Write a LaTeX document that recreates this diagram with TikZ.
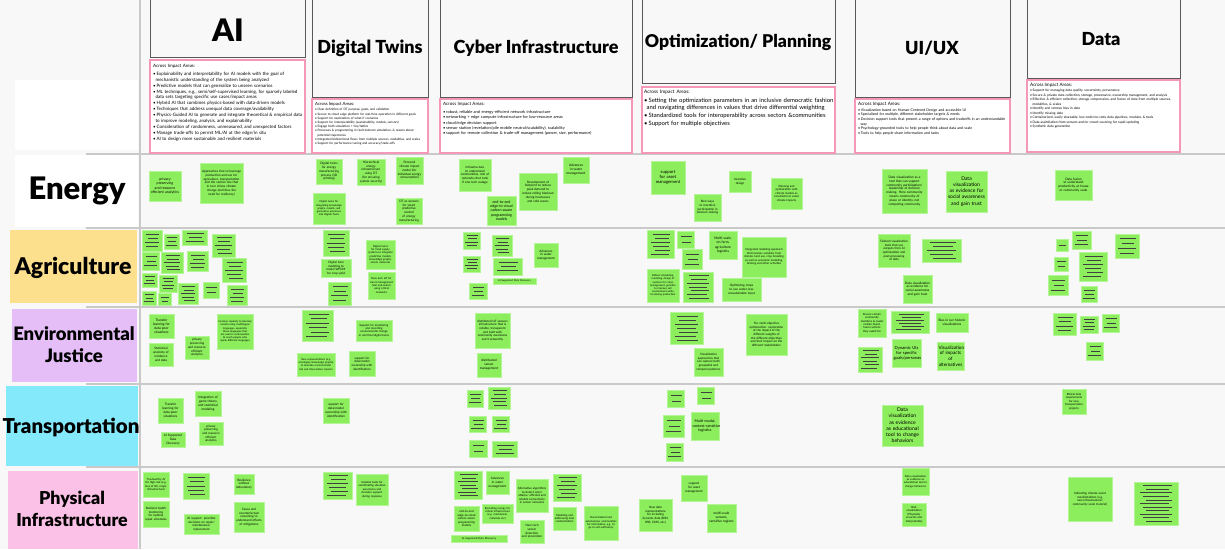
\documentclass[tikz,border=0pt]{standalone}
\usepackage{fontspec}
\setmainfont{Lato}
\newfontfamily\heavy{Lato Black}
\hyphenpenalty=10000
\exhyphenpenalty=10000
\definecolor{notegreen}{HTML}{8CEE5C}
\definecolor{noteedge}{HTML}{B4F597}
\definecolor{boardbg}{HTML}{F8F8F8}
\definecolor{sepgray}{HTML}{C9C9C9}
\definecolor{acrosspink}{HTML}{F497B8}
\definecolor{agriyellow}{HTML}{FDE08E}
\definecolor{ejpurple}{HTML}{E6BEF7}
\definecolor{transcyan}{HTML}{84EAFB}
\definecolor{physpink}{HTML}{FBC1E6}

\tikzset{
  note/.style={fill=notegreen, draw=noteedge, line width=0.7pt, inner sep=1pt, align=center},
  smudge/.style={black!75, line width=0.75pt},
  headbox/.style={draw=black!65, fill=boardbg, line width=0.9pt},
  across/.style={draw=acrosspink, fill=white, line width=1.1pt},
  acrosstext/.style={anchor=north west, inner sep=0pt, align=left},
  headtitle/.style={font=\heavy\fontsize{18}{21}\selectfont},
  rowtitle/.style={font=\heavy\fontsize{18.5}{22}\selectfont, align=center},
  sep/.style={sepgray, line width=1.4pt},
}

% sticky note with readable text: name, x1, y1, x2, y2, size, text
\newcommand{\stick}[7]{%
  \pgfmathsetmacro\sw{#4-#2}\pgfmathsetmacro\sh{#5-#3}%
  \pgfmathsetmacro\tw{#4-#2-3}\pgfmathsetmacro\bs{1.22*#6}%
  \node[note, minimum width=\sw, minimum height=\sh, text width=\tw,
        font=\fontsize{#6}{\bs}\selectfont] (#1) at ({(#2+#4)/2},{(#3+#5)/2}) {#7};}
% sticky note too small to read: name, x1, y1, x2, y2, lines
\newcommand{\blur}[6]{%
  \pgfmathsetmacro\sw{#4-#2}\pgfmathsetmacro\sh{#5-#3}%
  \node[note, minimum width=\sw, minimum height=\sh] (#1) at ({(#2+#4)/2},{(#3+#5)/2}) {};
  \foreach \k in {1,...,#6}
    \draw[smudge] ({#2+(0.14+0.07*mod(\k,3))*(#4-#2)},{#3+\k*(#5-#3)/(#6+1)})
      -- ({#4-(0.14+0.06*mod(\k+1,2))*(#4-#2)},{#3+\k*(#5-#3)/(#6+1)});}
\newcommand{\itm}{\par\noindent\hangindent=2.4pt\hangafter=1 •\,}

\begin{document}
\begin{tikzpicture}[x=1pt, y=-1pt]
    \useasboundingbox (0,0) rectangle (1225,549);
    \fill[boardbg] (0,0) rectangle (1225,549);

    % grid lines
    \draw[sep] (140,0) -- (140,549);
    \foreach \yy in {154,228,307,384,467}
        \draw[sep] (86,\yy) -- (1225,\yy);

    % column heads
    \fill[white] (15,80) rectangle (138,150);
    \draw[headbox] (150,-3) rectangle (305,57);
    \draw[headbox] (312,-3) rectangle (428,97);
    \draw[headbox] (440,-3) rectangle (632,97);
    \draw[headbox] (642,-3) rectangle (835,83);
    \draw[headbox] (855,-3) rectangle (1010,97);
    \draw[headbox] (1027,-3) rectangle (1180,78);
    \node[headtitle, font=\heavy\fontsize{31}{34}\selectfont] (hAI) at (228,30) {AI};
    \node[headtitle] (hDT) at (370,48) {Digital Twins};
    \node[headtitle] (hCI) at (536,48) {Cyber Infrastructure};
    \node[headtitle, font=\heavy\fontsize{17.6}{21}\selectfont] (hOP) at (738,42) {Optimization/ Planning};
    \node[headtitle] (hUI) at (932,48) {UI/UX};
    \node[headtitle] (hDA) at (1101,39) {Data};

    % across impact areas
    \draw[across] (150,60) rectangle (305,153);
    \node[acrosstext, text width=149, font=\fontsize{4.5}{5.9}\selectfont] (xAI) at (153,64) {Across Impact Areas:\par\vspace{2pt}
      \itm Explainability and interpretability for AI models with the goal of mechanistic understanding of the system being analyzed
      \itm Predictive models that can generalize to unseen scenarios
      \itm ML techniques, e.g., semi/self-supervised learning, for sparsely labeled data sets targeting specific use cases/impact areas
      \itm Hybrid AI that combines physics-based with data-driven models
      \itm Techniques that address unequal data coverage/availability
      \itm Physics-Guided AI to generate and integrate theoretical \& empirical data to improve modeling, analysis, and explainability
      \itm Consideration of randomness, unmeasured, and unexpected factors
      \itm Manage trade-offs to permit ML/AI at the edge/in situ
      \itm AI to design more sustainable and resilient materials};
    \draw[across] (312,99) rectangle (428,153);
    \node[acrosstext, text width=111, font=\fontsize{3.1}{4.2}\selectfont] (xDT) at (315,102) {{\fontsize{4.3}{5}\selectfont Across Impact Areas:}\par\vspace{1.5pt}
      \itm Clear definition of DT purpose, goals, and validation
      \itm Secure to cloud edge platform for real-time operation in different goals
      \itm Support for exploration of what-if scenarios
      \itm Support for interoperability (sustainability, models, sensors)
      \itm Engage both simulation + tiny/lattice
      \itm Processes \& programming in fault-tolerant simulation, \& reason about potential trajectories
      \itm Integrated bidirectional flows from multiple sources, modalities, and scales
      \itm Support for performance tuning and accuracy/trade-offs};
    \draw[across] (440,99) rectangle (632,153);
    \node[acrosstext, text width=186, font=\fontsize{4}{5.4}\selectfont] (xCI) at (443,102) {{\fontsize{4.5}{5.5}\selectfont Across Impact Areas:}\par\vspace{2.5pt}
      \itm robust, reliable and energy-efficient network infrastructure
      \itm networking + edge compute infrastructure for low-resource areas
      \itm cloud/edge decision support
      \itm sensor station (revelation/pile mobile neutral/scalability), scalability
      \itm support for remote collection \& trade-off management (power, size, performance)};
    \draw[across] (642,87) rectangle (835,153);
    \node[acrosstext, text width=190, font=\fontsize{5.9}{7.6}\selectfont] (xOP) at (644,90) {{\fontsize{4.8}{6}\selectfont Across Impact Areas:}\par\vspace{1pt}
      \itm Setting the optimization parameters in an inclusive democratic fashion and navigating differences in values that drive differential weighting
      \itm Standardized tools for interoperability across sectors \&communities
      \itm Support for multiple objectives};
    \draw[across] (855,99) rectangle (1010,153);
    \node[acrosstext, text width=150, font=\fontsize{3.6}{4.7}\selectfont] (xUI) at (858,102) {{\fontsize{4.6}{5.5}\selectfont Across Impact Areas:}\par\vspace{1pt}
      \itm Visualization based on Human-Centered Design and accessible UI
      \itm Specialized for multiple, different stakeholder targets \& needs
      \itm Decision support tools that present a range of options and tradeoffs in an understandable way
      \itm Psychology-grounded tools to help people think about data and scale
      \itm Tools to help people share information and tasks};
    \draw[across] (1027,80) rectangle (1180,152);
    \node[acrosstext, text width=148, font=\fontsize{3.3}{4.5}\selectfont] (xDA) at (1030,83) {{\fontsize{4.6}{5.5}\selectfont Across Impact Areas:}\par\vspace{1pt}
      \itm Support for managing data quality, uncertainty, provenance
      \itm Secure \& private data collection, storage, provenance, ownership management, and analysis
      \itm Effective \& efficient collection, storage compression, and fusion of data from multiple sources, modalities, \& scales
      \itm Identify and remove bias in data
      \itm Identify missing data
      \itm Containerized, easily shareable, low-code/no-code data pipelines, modules \& tools
      \itm Data assimilation from sensors and/or crowd sourcing for rapid updating
      \itm Synthetic data generation};

    % row heads
    \fill[white] (15,155) rectangle (138,227);
    \fill[agriyellow] (10,230) rectangle (137,303);
    \fill[ejpurple] (12,309) rectangle (137,382);
    \fill[transcyan] (6,386) rectangle (138,466);
    \fill[physpink] (8,471) rectangle (138,549);
    \node[rowtitle, font=\heavy\fontsize{31}{34}\selectfont] (rEN) at (77,191) {Energy};
    \node[rowtitle, font=\heavy\fontsize{23}{26}\selectfont] (rAG) at (73,268) {Agriculture};
    \node[rowtitle] (rEJ) at (74,345) {Environmental\\Justice};
    \node[rowtitle, font=\heavy\fontsize{20.5}{23}\selectfont] (rTR) at (71,427) {Transportation};
    \node[rowtitle, font=\heavy\fontsize{17.8}{22}\selectfont] (rPI) at (72,509) {Physical\\Infrastructure};

    % Energy
    \stick{e1}{149}{171}{181}{201}{3.6}{privacy preserving and resource efficient analytics}
    \stick{e2}{200}{163}{243}{203}{3.1}{Approaches that to leverage production and use for agriculture, transportation and the carbon mix that in turn drives climate change (and thus the need for resiliency)}
    \stick{e3}{316}{159}{342}{184}{3.1}{Digital twins for energy manufacturing process (3D printing)}
    \stick{e4}{357}{159}{385}{185}{3.1}{Hierarchical energy infrastructure using DT (for ensuring system security)}
    \stick{e5}{396}{157}{423}{184}{3.1}{Personal climate impact model (for individual energy consumption)}
    \stick{e6}{313}{193}{345}{224}{2.6}{Digital twins for integrating knowledge graphs, models, and generative processes into Digital Twins}
    \stick{e7}{396}{198}{422}{224}{3.1}{DT as sensors for smart predictive control of energy manufacturing}
    \stick{e8}{459}{159}{491}{191}{3.1}{Infrastructure to understand communities, role of networks that tank if one tech outage}
    \stick{e9}{487}{196}{516}{225}{3.6}{end-to-end edge-to-cloud carbon-aware programming models}
    \stick{e10}{519}{173}{557}{210}{3.1}{Development of footprint to reduce peak demand to reduce rolling blackout during heatwaves and cold waves}
    \stick{e11}{563}{157}{589}{183}{3.3}{Advances in water management}
    \stick{e12}{651}{161}{685}{194}{4.3}{support for asset management}
    \stick{e13}{694}{194}{721}{221}{3}{Best ways to incentive participation in decision-making}
    \stick{e14}{729}{171}{751}{192}{3}{Incentive design}
    \stick{e15}{771}{178}{802}{209}{2.8}{Planning and optimization with climate models as constraints to avoid climate impacts}
    \stick{e16}{882}{169}{927}{213}{3.2}{Data visualization as a tool that can support community participation/ leadership of decision making. Here community means community of place or identity, not computing community}
    \stick{e17}{946}{171}{987}{212}{5}{Data visualization as evidence for social awareness and gain trust}
    \stick{e18}{1055}{170}{1092}{200}{3.2}{Data fusion to understand productivity at house or community scale}

    % Agriculture
    \blur{a1}{142}{230}{162}{251}{4}
    \blur{a2}{164}{234}{179}{249}{3}
    \blur{a3}{182}{230}{207}{245}{3}
    \blur{a4}{212}{234}{235}{257}{5}
    \blur{a5}{142}{252}{159}{270}{3}
    \blur{a6}{161}{252}{183}{273}{5}
    \blur{a7}{187}{251}{208}{271}{4}
    \blur{a8}{222}{258}{246}{282}{5}
    \blur{a9}{142}{273}{157}{287}{3}
    \blur{a10}{159}{275}{177}{292}{4}
    \blur{a11}{178}{283}{198}{304}{5}
    \blur{a12}{203}{282}{219}{298}{2}
    \blur{a13}{227}{285}{247}{305}{4}
    \blur{a14}{142}{291}{156}{305}{3}
    \blur{a15}{158}{293}{171}{305}{2}
    \blur{a16}{323}{230}{349}{256}{5}
    \stick{a17}{321}{259}{351}{277}{3}{Digital twin modeling to model WFDM for crop yield}
    \blur{a18}{328}{282}{351}{305}{4}
    \stick{a19}{366}{240}{395}{269}{2.7}{Digital twins for food supply systems to integrate predictive models, knowledge graphs, sensor networks}
    \stick{a20}{368}{272}{395}{299}{2.7}{New tech IoT for smart management (soil and water) using critical networks}
    \blur{a21}{463}{232}{480}{249}{4}
    \blur{a22}{492}{235}{512}{256}{5}
    \blur{a23}{463}{256}{480}{272}{4}
    \blur{a24}{493}{258}{522}{275}{3}
    \blur{a25}{469}{283}{487}{299}{3}
    \stick{a26}{493}{278}{536}{284}{2.5}{AI-Supported Data Discovery}
    \stick{a27}{534}{243}{558}{267}{3.1}{Advances in water management}
    \blur{a28}{647}{230}{674}{258}{6}
    \blur{a29}{677}{231}{694}{248}{2}
    \blur{a30}{682}{249}{702}{269}{3}
    \stick{a31}{709}{231}{737}{259}{3.4}{Multi-scale, on-farm, agriculture logistics}
    \stick{a32}{742}{237}{786}{277}{2.8}{Integrated modeling approach that involves variables from climate, land use, crop breeding as well as economic modeling, farming and other activities}
    \stick{a33}{647}{269}{679}{302}{2.6}{Robust scheduling, modeling, design of systems for crops, management, genetics to improve soil environment while increasing production}
    \blur{a34}{683}{272}{713}{302}{7}
    \stick{a35}{722}{278}{761}{301}{3.1}{Optimizing crops to use water, less unsustainable input}
    \stick{a36}{878}{234}{910}{267}{3}{Tailored visualization tools that use outputs from AI optimization and post-processing of data}
    \blur{a37}{922}{239}{961}{262}{5}
    \stick{a38}{903}{275}{932}{303}{3.2}{Data visualization as evidence for social awareness and gain trust}
    \blur{a39}{1056}{239}{1068}{251}{1}
    \blur{a40}{1072}{231}{1091}{249}{3}
    \blur{a41}{1115}{234}{1139}{258}{4}
    \blur{a42}{1054}{257}{1068}{271}{2}
    \blur{a43}{1079}{252}{1107}{281}{6}
    \blur{a44}{1048}{275}{1068}{295}{3}
    \blur{a45}{1081}{286}{1097}{302}{3}

    % Environmental Justice
    \stick{j1}{149}{314}{174}{338}{3.3}{Transfer learning for data-poor situations}
    \stick{j2}{149}{343}{173}{366}{3.1}{Statistical anatomy of incidence and data}
    \stick{j3}{185}{336}{209}{359}{3.1}{privacy preserving and resource efficient analytics}
    \stick{j4}{217}{314}{253}{349}{2.6}{Increase capacity to develop models using multilingual languages, especially those languages that are used in communities to reach people who speak different languages}
    \blur{j5}{302}{310}{333}{341}{6}
    \stick{j6}{356}{320}{392}{341}{2.8}{Support for monitoring and recording environmental change in real time/digital twins}
    \stick{j7}{297}{353}{335}{376}{2.6}{New representations (e.g. ontologies/knowledge graphs) to describe environmental risk and intervention impacts}
    \stick{j8}{349}{351}{375}{376}{3}{support for data/model ownership with identification}
    \stick{j9}{475}{313}{510}{348}{3}{distributed IoT sensors infrastructure that is reliable, transparent and built with community awareness and trustworthy}
    \stick{j10}{477}{353}{501}{377}{3.2}{distributed sensor management}
    \blur{j11}{670}{312}{703}{344}{7}
    \stick{j12}{694}{348}{723}{376}{3}{Visualization approaches that can capture both geospatial and temporal patterns}
    \stick{j13}{746}{314}{787}{355}{3}{For multi-objective optimization: exploration of the impact of the different weights of the different objectives and their impact on the different stakeholders}
    \stick{j14}{858}{309}{886}{337}{2.8}{Ensure certain community members \& needs remain heard, honor actions they asked for}
    \blur{j15}{891}{311}{929}{333}{6}
    \stick{j16}{936}{313}{968}{332}{3.2}{Bias in our historic visualizations}
    \blur{j17}{858}{347}{882}{372}{6}
    \stick{j18}{892}{339}{921}{367}{4.2}{Dynamic UIs for specific goals/personas}
    \stick{j19}{937}{342}{964}{370}{4.6}{Visualization of impacts of alternatives}
    \blur{j20}{1053}{313}{1076}{335}{4}
    \blur{j21}{1080}{316}{1098}{333}{4}
    \blur{j22}{1102}{314}{1119}{332}{3}
    \blur{j23}{1086}{342}{1103}{360}{3}

    % Transportation
    \stick{t1}{158}{398}{183}{423}{3.2}{Transfer learning for data-poor situations}
    \stick{t2}{195}{391}{221}{416}{3.2}{Integration of game theory and statistical modeling}
    \stick{t3}{161}{432}{185}{447}{3.1}{AI Supported Data Discovery}
    \stick{t4}{199}{422}{223}{445}{3}{privacy preserving and resource efficient analytics}
    \stick{t5}{323}{398}{349}{423}{3.1}{support for data/model ownership with identification}
    \blur{t6}{467}{390}{483}{407}{3}
    \blur{t7}{488}{387}{510}{409}{5}
    \blur{t8}{469}{416}{486}{432}{3}
    \blur{t9}{492}{416}{509}{432}{3}
    \blur{t10}{469}{440}{487}{457}{2}
    \blur{t11}{492}{441}{517}{457}{3}
    \blur{t12}{667}{390}{684}{407}{2}
    \blur{t13}{697}{387}{714}{404}{2}
    \blur{t14}{663}{415}{684}{437}{3}
    \blur{t15}{666}{443}{683}{461}{3}
    \stick{t16}{691}{412}{719}{440}{3.7}{Multi-modal, context-sensitive logistics}
    \stick{t17}{882}{405}{923}{446}{5.1}{Data visualization as evidence as educational tool to change behaviors}
    \stick{t18}{1062}{389}{1086}{414}{2.8}{Ethical data requirements for new transportation projects}

    % Physical Infrastructure
    \stick{p1}{143}{472}{169}{497}{2.8}{Trustworthy AI for high-risk (e.g. loss of life, major infrastructure)}
    \blur{p2}{183}{473}{209}{499}{5}
    \stick{p3}{234}{474}{254}{494}{3.1}{Resilience without redundancy}
    \stick{p4}{143}{501}{169}{527}{3}{Resilient health monitoring for optimal repair schedules}
    \stick{p5}{184}{514}{219}{534}{3}{AI support: prioritize decisions on repair/ maintenance/ replacement}
    \stick{p6}{234}{502}{264}{532}{3.1}{Cause and counterfactual reasoning to understand effects of mitigations}
    \blur{p7}{323}{472}{352}{499}{6}
    \stick{p8}{356}{474}{388}{505}{2.8}{Scalable tools for coordinating situation awareness and decision support during response}
    \blur{p9}{454}{471}{482}{499}{7}
    \stick{p10}{486}{471}{509}{494}{3.1}{Advances in water management}
    \stick{p11}{516}{479}{548}{512}{2.9}{Alternative algorithms to detect cyber attacks/ efficient and reliable connectivity in sensor networks}
    \blur{p12}{553}{474}{581}{501}{6}
    \stick{p13}{454}{506}{479}{531}{2.9}{end-to-end edge-to-cloud carbon aware programming models}
    \stick{p14}{482}{504}{513}{523}{2.7}{Recording energy for critical infrastructure (e.g. mechanical, materials etc)}
    \stick{p15}{520}{520}{544}{543}{3}{New tech sensor detection and prevention}
    \stick{p16}{553}{507}{576}{530}{2.8}{Modeling and addressing lead contamination}
    \stick{p17}{584}{506}{618}{540}{2.7}{Decentralized and autonomous communities for information, e.g. to go to self-sufficiency}
    \stick{p18}{451}{535}{507}{542}{2.6}{AI-Supported/Data Discovery}
    \stick{p19}{639}{499}{672}{531}{3}{New data representations for including dynamic data (BIM, HSR, DMS, etc.)}
    \stick{p20}{681}{475}{707}{501}{3.1}{support for asset management}
    \stick{p21}{707}{504}{736}{532}{3.3}{multi-scale sensors, sensitive regions}
    \stick{p22}{902}{468}{929}{495}{2.7}{Data visualization as evidence as educational tool to change behaviors}
    \stick{p23}{902}{503}{926}{526}{2.8}{Risk visualization (Physically accurate and interpretable)}
    \stick{p24}{1068}{477}{1112}{521}{3}{Indicating climate event manifestations (e.g. new infrastructure/ community scale transfer)}
    \blur{p25}{1134}{482}{1178}{525}{11}
\end{tikzpicture}
\end{document}
